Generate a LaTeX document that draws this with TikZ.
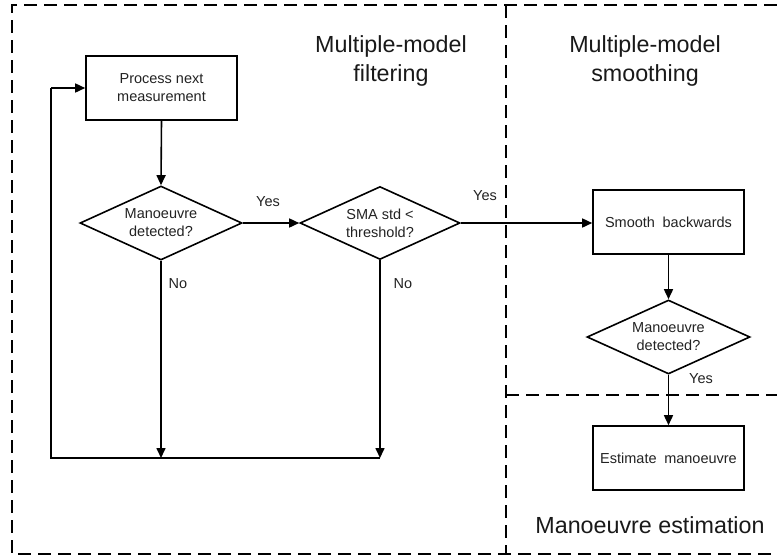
\documentclass[tikz,border=0pt]{standalone}
\usepackage{fontspec}
\setmainfont{Liberation Sans}
\usetikzlibrary{shapes.geometric,arrows.meta}
\definecolor{txt}{HTML}{222222}
\tikzset{
  procbox/.style={draw, line width=1.6pt, minimum width=151pt, minimum height=64pt, inner sep=0pt, align=center, font=\fontsize{14.5}{18}\selectfont, text=txt},
  decision/.style={draw, diamond, aspect=2.19, line width=1.6pt, minimum width=162pt, minimum height=74pt, inner sep=0pt, align=center, font=\fontsize{14.5}{18}\selectfont, text=txt},
  flow/.style={line width=1.6pt, -{Triangle[length=10pt,width=9pt]}},
  plain/.style={line width=1.6pt},
  lbl/.style={font=\fontsize{14.5}{18}\selectfont, text=txt, inner sep=0pt},
  region/.style={line width=2.8pt, dash pattern=on 13pt off 7pt},
  title/.style={font=\fontsize{23.3}{29}\selectfont, align=center, text=black!90, inner sep=0pt}
}
\begin{document}
\begin{tikzpicture}[x=1pt,y=-1pt]
\useasboundingbox (0,0) rectangle (777,558);
% region frames
\coordinate (tl) at (12,5);
\coordinate (tr) at (777,5);
\coordinate (bl) at (12,554);
\coordinate (br) at (777,554);
\coordinate (vt) at (506,5);
\coordinate (vb) at (506,554);
\coordinate (hl) at (506,395);
\coordinate (hr) at (777,395);
\draw[region] (tr) -- (tl) -- (bl) -- (br);
\draw[region] (vt) -- (vb);
\draw[region] (hl) -- (hr);
% titles
\node[title] (t1) at (391,61) {Multiple-model\\filtering};
\node[title] (t2) at (645,61) {Multiple-model\\smoothing};
\node[title] (t3) at (650,525) {Manoeuvre estimation};
% nodes
\node[procbox] (proc) at (161.5,88) {Process next\\measurement};
\node[decision] (d1) at (161,223) {Manoeuvre\\detected?};
\node[decision, minimum width=160pt, minimum height=73pt] (d2) at (380,223) {SMA std <\\threshold?};
\node[procbox] (smooth) at (668.5,222) {Smooth\hspace{0.25em} backwards};
\node[decision, minimum width=163pt] (d3) at (668.5,337) {Manoeuvre\\detected?};
\node[procbox] (est) at (668.5,458) {Estimate\hspace{0.25em} manoeuvre};
% helper coordinates
\coordinate (j1) at (161,458);
\coordinate (j2) at (380,458);
\coordinate (c1) at (51,458);
\coordinate (c2) at (51,88);
% connectors
\draw[flow] (proc.south) -- (d1.north);
\draw[flow] (d1.east) -- (d2.west);
\draw[flow] (d2.east) -- (d2.east -| smooth.west);
\draw[flow] (d1.south) -- (j1);
\draw[flow] (d2.south) -- (j2);
\draw[plain] (j2) -- (c1) -- (c2);
\draw[flow] (c2) -- (proc.west);
\draw[flow] (smooth.south) -- (d3.north);
\draw[flow] (d3.south) -- (est.north);
% labels
\node[lbl] (y1) at (268,202) {Yes};
\node[lbl] (y2) at (485,196) {Yes};
\node[lbl] (y3) at (701,379) {Yes};
\node[lbl] (n1) at (178,284) {No};
\node[lbl] (n2) at (403,284) {No};
\end{tikzpicture}
\end{document}
